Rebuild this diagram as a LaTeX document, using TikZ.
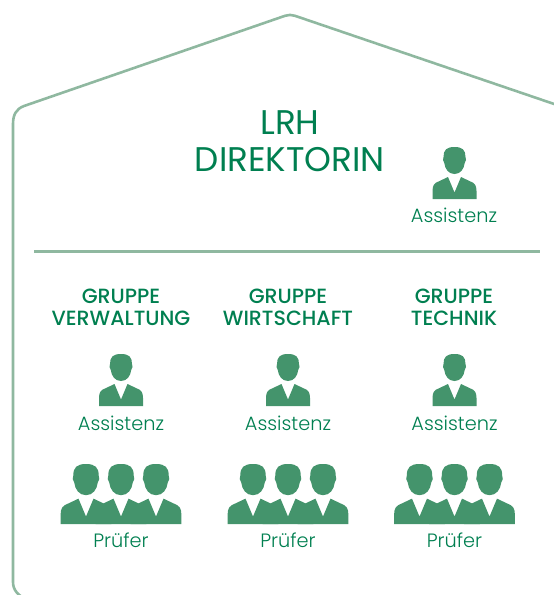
\documentclass[tikz,border=0pt]{standalone}
\usepackage{fontspec}
\setmainfont{Poppins}
\newfontfamily\medfont{Poppins Medium}
\newfontfamily\lightfont{Poppins Light}
\definecolor{houseline}{HTML}{8FB8A0}
\definecolor{iconfill}{HTML}{44946C}
\definecolor{textgreen}{HTML}{007F50}
\tikzset{
  houseedge/.style={draw=houseline,line width=2.6pt,line join=round,line cap=butt},
  title/.style={text=textgreen,font=\fontsize{34.2}{37}\selectfont,align=center,anchor=base},
  grouplabel/.style={text=textgreen,font=\medfont\fontsize{20.6}{22}\selectfont,align=center,anchor=base},
  caption/.style={text=textgreen,font=\lightfont\fontsize{19.3}{20}\selectfont,anchor=base},
  personbody/.pic={
    \fill[iconfill] (-22,52) -- (-22,44) .. controls (-22,38) and (-20,36) .. (-16,34.5)
      -- (-6.5,30) -- (0,45.5) -- (6.5,30) -- (16,34.5) .. controls (20,36) and (22,38) .. (22,44) -- (22,52) -- cycle;
    \fill[iconfill] (0,0) .. controls (-8,0) and (-11,3) .. (-11,10)
      -- (-11.5,13) -- (-10.2,16) .. controls (-9.5,22) and (-6,27) .. (0,27)
      .. controls (6,27) and (9.5,22) .. (10.2,16) -- (11.5,13) -- (11,10)
      .. controls (11,3) and (8,0) .. (0,0) -- cycle;
  }
}
\begin{document}
\begin{tikzpicture}[x=1pt,y=-1pt]
\useasboundingbox (0,0) rectangle (554,595);
\begin{scope}
\clip (0,0) rectangle (554,595);
\draw[houseedge] (28,600) .. controls (18,596) and (13,590) .. (13,582) -- (13,124)
  .. controls (13,115) and (16,109) .. (24,106) -- (285,15.8)
  .. controls (288.5,14.6) and (291.5,14.6) .. (295,15.8) -- (560,106);
\end{scope}
\coordinate (ruleL) at (34,251.5);
\coordinate (ruleR) at (540,251.5);
\draw[houseedge,line width=2.2pt] (ruleL) -- (ruleR);
\node[title] (director) at (290,171) {LRH\\DIREKTORIN};
\pic at (454.5,147) {personbody};
\node[caption] (assistMain) at (454,222) {Assistenz};
\node[grouplabel] (g1) at (121,325) {GRUPPE\\VERWALTUNG};
\node[grouplabel] (g2) at (288,325) {GRUPPE\\WIRTSCHAFT};
\node[grouplabel] (g3) at (454,325) {GRUPPE\\TECHNIK};
\foreach \cx/\nm in {121/a,288/b,454.5/c}{
  \pic at (\cx,354) {personbody};
  \node[caption] (assist\nm) at (\cx,430) {Assistenz};
  \begin{scope}[shift={(\cx,464)}]
    \pic[scale=1.155] at (-35,0) {personbody};
    \pic[scale=1.155] at (0,0) {personbody};
    \pic[scale=1.155] at (35,0) {personbody};
  \end{scope}
  \node[caption] (pruefer\nm) at (\cx,547.5) {Prüfer};
}
\end{tikzpicture}
\end{document}
